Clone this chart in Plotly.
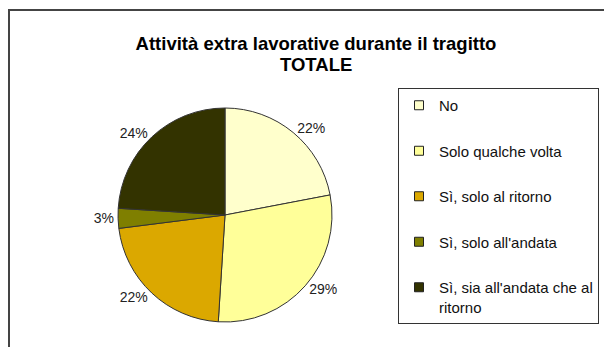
import plotly.graph_objects as go

# ---- data ----
categories = ["No", "Solo qualche volta", "Sì, solo al ritorno", "Sì, solo all'andata",
              "Sì, sia all'andata che al ritorno"]
legend_labels = ["No", "Solo qualche volta", "Sì, solo al ritorno", "Sì, solo all'andata",
                 "Sì, sia all'andata che al<br>ritorno"]
values = [22, 29, 22, 3, 24]
colors = ["#FFFFCC", "#FFFF99", "#DBA800", "#7F7F00", "#333300"]
title_line1 = "Attività extra lavorative durante il tragitto"
title_line2 = "TOTALE"

W, H = 604, 347
FONT = "Liberation Sans, Arial, sans-serif"

fig = go.Figure()

cx, cy, r = 225, 215, 107
fig.add_trace(go.Pie(
    labels=categories,
    values=values,
    sort=False,
    direction="clockwise",
    rotation=0,
    marker=dict(colors=colors, line=dict(color="#333333", width=1)),
    textinfo="percent",
    texttemplate="%{percent:.0%}",
    textposition="outside",
    outsidetextfont=dict(family=FONT, size=14, color="#222222"),
    showlegend=False,
    hoverinfo="label+percent",
    domain=dict(x=[(cx - r) / W, (cx + r) / W], y=[(H - cy - r) / H, (H - cy + r) / H]),
))

# legend entries (one per category)
for i, (lab, col) in enumerate(zip(legend_labels, colors)):
    fig.add_trace(go.Scatter(
        x=[None], y=[None], mode="markers", name=lab,
        legendgroup=f"g{i}",
        marker=dict(symbol="square", size=9, color=col, line=dict(color="#222222", width=1)),
        hoverinfo="skip",
    ))

fig.update_layout(
    width=W, height=H,
    margin=dict(l=0, r=0, t=0, b=0),
    paper_bgcolor="white", plot_bgcolor="white",
    font=dict(family=FONT, size=15, color="#111111"),
    title=dict(
        text=f"<b>{title_line1}</b>",
        x=316 / W, xanchor="center", y=1 - 44 / H, yanchor="middle",
        font=dict(family=FONT, size=18.5, color="#000000"),
    ),
    annotations=[dict(
        text=f"<b>{title_line2}</b>", xref="paper", yref="paper",
        x=316 / W, y=1 - 64 / H, xanchor="center", yanchor="middle",
        showarrow=False, font=dict(family=FONT, size=18.5, color="#000000"),
    )],
    xaxis=dict(visible=False), yaxis=dict(visible=False),
    legend=dict(
        x=398 / W, xanchor="left", y=1 - 88 / H, yanchor="top",
        bordercolor="#333333", borderwidth=1, bgcolor="white",
        font=dict(family=FONT, size=15, color="#111111"),
        tracegroupgap=23, traceorder="grouped", valign="top",
    ),
    shapes=[dict(type="rect", xref="paper", yref="paper",
                 x0=9 / W, x1=1.05, y0=-0.05, y1=1 - 10 / H,
                 line=dict(color="#444444", width=2))],
)

fig.write_html("out.html")
